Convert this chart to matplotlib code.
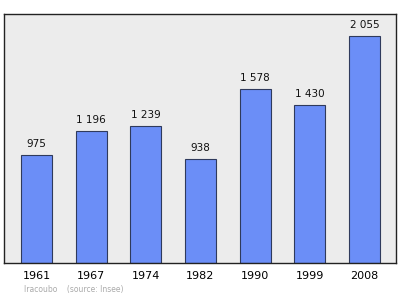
import matplotlib.pyplot as plt

years = ["1961", "1967", "1974", "1982", "1990", "1999", "2008"]
population = [975, 1196, 1239, 938, 1578, 1430, 2055]
labels = ["975", "1 196", "1 239", "938", "1 578", "1 430", "2 055"]

fig = plt.figure(figsize=(4, 2.99), dpi=100)
ax = fig.add_axes([0.01, 0.12, 0.98, 0.833])
ax.set_facecolor("#ececec")

x = range(len(years))
ax.bar(x, population, width=0.57, color="#6b8ef7", edgecolor="#2f3a5c", linewidth=0.8, zorder=2)
for i, v in enumerate(population):
    ax.text(i, v + 55, labels[i], ha="center", va="bottom", fontsize=7.5, color="#111111")

ax.set_xlim(-0.594, 6.576)
ax.set_ylim(0, 2254)
ax.set_xticks(list(x))
ax.set_xticklabels(years, fontsize=8)
ax.tick_params(axis="x", length=0, pad=6)
ax.set_yticks([])
for s in ax.spines.values():
    s.set_color("#222222")
    s.set_linewidth(1)

fig.text(0.06, 0.022, "Iracoubo    (source: Insee)", fontsize=5.5, color="#aaaaaa")

fig.savefig("out.png", dpi=100)
